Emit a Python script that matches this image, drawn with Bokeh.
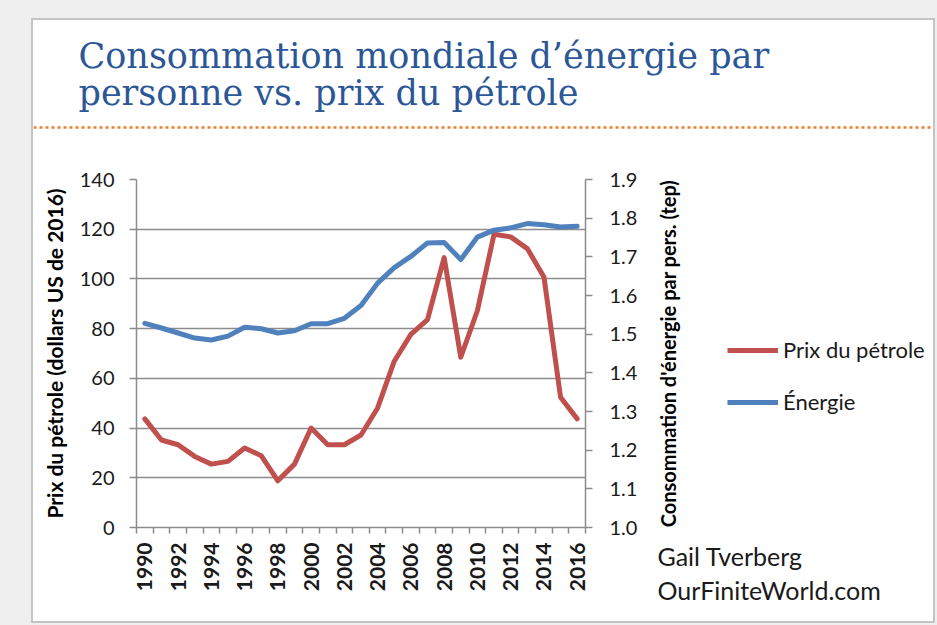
import math
from bokeh.plotting import figure
from bokeh.layouts import column, row
from bokeh.models import (ColumnDataSource, LinearAxis, Range1d, FixedTicker, Legend, LegendItem,
                          Label, Span, PrintfTickFormatter)
from bokeh.embed import file_html
from bokeh.resources import INLINE

# ---------------- data ----------------
years = list(range(1990, 2017))
oil_price = [43.7, 35.2, 33.3, 28.6, 25.5, 26.6, 32.0, 28.9, 18.8, 25.5,
             40.0, 33.3, 33.3, 37.2, 48.1, 66.9, 77.7, 83.6, 108.6, 68.5,
             87.3, 118.0, 116.9, 112.2, 100.8, 52.4, 43.7]
energy = [1.528, 1.516, 1.503, 1.490, 1.485, 1.495, 1.518, 1.514, 1.503, 1.509,
          1.527, 1.527, 1.541, 1.574, 1.632, 1.672, 1.701, 1.736, 1.737, 1.693,
          1.751, 1.769, 1.775, 1.786, 1.783, 1.777, 1.779]
price_ticks = [0, 20, 40, 60, 80, 100, 120, 140]
energy_ticks = [1.0, 1.1, 1.2, 1.3, 1.4, 1.5, 1.6, 1.7, 1.8, 1.9]
year_labels = [1990, 1992, 1994, 1996, 1998, 2000, 2002, 2004, 2006, 2008, 2010, 2012, 2014, 2016]

title_lines = ["Consommation mondiale d’énergie par", "personne vs. prix du pétrole"]
left_label = "Prix du pétrole (dollars US de 2016)"
right_label = "Consommation d'énergie par pers. (tep)"
series_names = ["Prix du pétrole", "Énergie"]
credits = ["Gail Tverberg", "OurFiniteWorld.com"]

# ---------------- styling ----------------
FONT = "Lato"
GRID = "#8c8c8c"
AX = "#8c8c8c"
TXT = "#1a1a1a"
RED = "#c0504d"
BLUE = "#4f81bd"
TITLE_C = "#2c5797"

PANEL_W = 900          # white slide panel
TOP_H = 109            # title strip height
CHART_W = 617          # chart figure width
CHART_H = 492          # chart figure height
SIDE_W = PANEL_W - CHART_W


def blank(width, height):
    f = figure(width=width, height=height, output_backend="svg", toolbar_location=None,
               x_range=Range1d(0, width), y_range=Range1d(height, 0),
               x_axis_location=None, y_axis_location=None, title=None,
               min_border=0, outline_line_color=None,
               background_fill_color="white", border_fill_color="white")
    f.xgrid.grid_line_color = None
    f.ygrid.grid_line_color = None
    f.frame_align = False
    return f


# ---------------- title strip ----------------
top = blank(PANEL_W, TOP_H)
for i, line in enumerate(title_lines):
    top.add_layout(Label(x=45, y=35 + 37 * i, text=line, text_font="DejaVu Serif",
                         text_font_size="35px", text_color=TITLE_C,
                         text_align="left", text_baseline="middle"))
top.add_layout(Span(location=107, dimension="width", line_color="#ed7d31",
                    line_width=2.4, line_dash="3 3"))

# ---------------- chart ----------------
p = figure(width=CHART_W, height=CHART_H, output_backend="svg", toolbar_location=None,
           title=None,
           x_range=Range1d(years[0] - 0.5, years[-1] + 0.5),
           y_range=Range1d(price_ticks[0], price_ticks[-1]),
           min_border_left=103, min_border_right=65,
           min_border_top=50, min_border_bottom=94,
           background_fill_color="white", border_fill_color="white",
           outline_line_color=None)
p.frame_align = False
p.extra_y_ranges = {"energy": Range1d(energy_ticks[0], energy_ticks[-1])}

src = ColumnDataSource(dict(year=years, price=oil_price, energy=energy))
p.line("year", "price", source=src, line_color=RED, line_width=5,
       line_join="round", line_cap="round")
p.line("year", "energy", source=src, y_range_name="energy",
       line_color=BLUE, line_width=5, line_join="round", line_cap="round")

xa = p.xaxis[0]
xa.ticker = FixedTicker(ticks=year_labels,
                        minor_ticks=[y - 0.5 for y in years] + [years[-1] + 0.5])
xa.major_tick_out = 0
xa.major_tick_in = 0
xa.minor_tick_out = 6
xa.minor_tick_in = 0
xa.minor_tick_line_color = AX
xa.minor_tick_line_width = 1.5
xa.axis_line_color = AX
xa.axis_line_width = 1.5
xa.major_label_orientation = math.pi / 2
xa.major_label_standoff = 9
xa.major_label_text_font = FONT
xa.major_label_text_font_size = "21px"
xa.major_label_text_font_style = "bold"
xa.major_label_text_color = TXT

ya = p.yaxis[0]
ya.ticker = FixedTicker(ticks=price_ticks)
ya.major_tick_out = 7
ya.major_tick_in = 0
ya.major_tick_line_color = AX
ya.major_tick_line_width = 1.5
ya.minor_tick_line_color = None
ya.axis_line_color = AX
ya.axis_line_width = 1.5
ya.major_label_standoff = 15
ya.major_label_text_font = FONT
ya.major_label_text_font_size = "20px"
ya.major_label_text_color = TXT
ya.axis_label = left_label
ya.axis_label_text_font = FONT
ya.axis_label_text_font_size = "21px"
ya.axis_label_text_font_style = "bold"
ya.axis_label_text_color = "black"
ya.axis_label_standoff = 10

ra = LinearAxis(y_range_name="energy", ticker=FixedTicker(ticks=energy_ticks),
                formatter=PrintfTickFormatter(format="%.1f"))
ra.major_tick_out = 7
ra.major_tick_in = 0
ra.major_tick_line_color = AX
ra.major_tick_line_width = 1.5
ra.minor_tick_line_color = None
ra.axis_line_color = AX
ra.axis_line_width = 1.5
ra.major_label_standoff = 17
ra.major_label_text_font = FONT
ra.major_label_text_font_size = "20px"
ra.major_label_text_color = TXT
p.add_layout(ra, "right")

p.xgrid.grid_line_color = None
p.ygrid.ticker = FixedTicker(ticks=price_ticks)
p.ygrid.grid_line_color = GRID
p.ygrid.grid_line_width = 1.3

# ---------------- side strip: right axis title, legend, credits ----------------
side = blank(SIDE_W, CHART_H)
side.add_layout(Label(x=17, y=224, text=right_label, angle=math.pi / 2,
                      text_font=FONT, text_font_size="20px", text_font_style="bold",
                      text_color="black", text_align="center", text_baseline="middle"))
proxy_price = side.line(x=[math.nan], y=[math.nan], line_color=RED, line_width=5)
proxy_energy = side.line(x=[math.nan], y=[math.nan], line_color=BLUE, line_width=5)
legend = Legend(items=[LegendItem(label=series_names[0], renderers=[proxy_price]),
                       LegendItem(label=series_names[1], renderers=[proxy_energy])],
                location=(77, 206), padding=0, spacing=25, glyph_width=51, glyph_height=24,
                label_height=24, label_standoff=5, border_line_color=None,
                background_fill_alpha=0, label_text_font=FONT, label_text_font_size="22px",
                label_text_color=TXT)
side.add_layout(legend)
for i, line in enumerate(credits):
    side.add_layout(Label(x=7, y=426 + 34 * i, text=line, text_font=FONT,
                          text_font_size="25px", text_color=TXT,
                          text_align="left", text_baseline="middle"))

layout = column(top, row(p, side), margin=(20, 0, 0, 33),
                styles={"box-shadow": "0 0 0 2px #c4c4c4, 0 0 0 90px #efefef"})

open("out.html", "w").write(file_html(layout, INLINE))
